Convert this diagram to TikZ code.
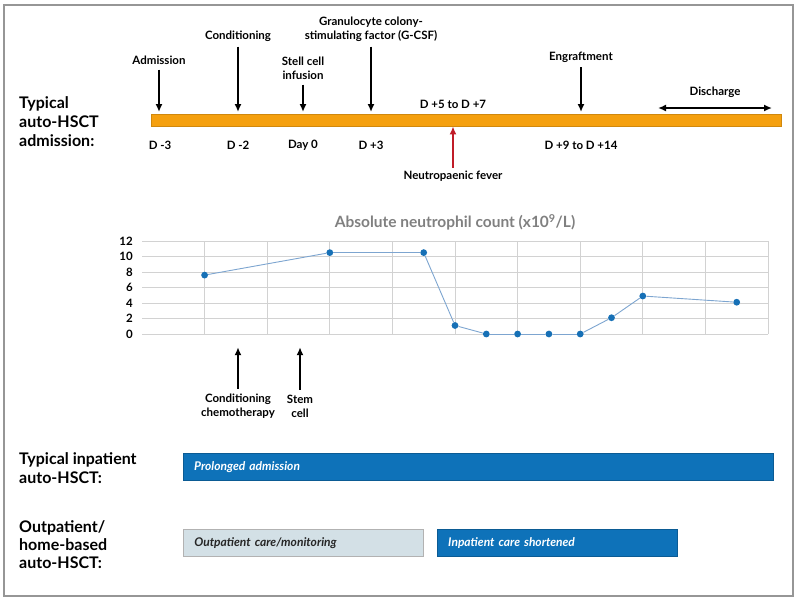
\documentclass[tikz,border=0pt]{standalone}
\usepackage{fontspec}
\setmainfont{Lato}
\usetikzlibrary{positioning,arrows.meta}
\definecolor{barorange}{RGB}{245,160,15}
\definecolor{boxblue}{RGB}{14,114,185}
\definecolor{boxgrey}{RGB}{211,224,230}
\definecolor{dotblue}{RGB}{22,112,182}
\definecolor{lineblue}{RGB}{125,165,208}
\definecolor{gridgrey}{RGB}{210,210,210}
\definecolor{titlegrey}{RGB}{128,128,128}
\definecolor{framegrey}{RGB}{150,150,150}
\definecolor{feverred}{RGB}{192,28,40}
\begin{document}
\begin{tikzpicture}[x=1pt, y=-1pt,
    every node/.style={inner sep=1pt, align=center, font=\bfseries\fontsize{11.5}{14}\selectfont},
    head/.style={anchor=west, align=left, font=\bfseries\fontsize{16}{19}\selectfont},
    evt/.style={->, line width=1.6pt},
    phase/.style={anchor=north west, inner xsep=11pt, text width=#1, minimum height=27pt, align=left,
      font=\bfseries\itshape\fontsize{12}{14}\selectfont},
    dot/.style={circle, fill=dotblue, inner sep=0pt, minimum size=6.8pt},
    gridline/.style={gridgrey, line width=0.8pt},
    chartline/.style={lineblue, line width=0.9pt},
    >={Latex[length=8pt,width=7pt]}
  ]
  \useasboundingbox (0,0) rectangle (800,600);
  \draw[framegrey, line width=1.4pt] (4,5) rectangle (793,596);

  % timeline
  \node[head] (typ) at (18,122) {Typical\\auto-HSCT\\admission:};
  \node[fill=barorange, draw=barorange!85!black, line width=0.4pt, inner sep=0pt,
    minimum width=630pt, minimum height=12pt, anchor=north west] (bar) at (151,114) {};
  \node (adm) at (159,60) {Admission};
  \node (cond) at (238,36) {Conditioning};
  \node (stell) at (303,68) {Stell cell\\infusion};
  \node (gcsf) at (371,29) {Granulocyte colony-\\stimulating factor (G-CSF)};
  \node (engr) at (581,57) {Engraftment};
  \node (dis) at (715,92) {Discharge};
  \node (d57) at (453,104) {D +5 to D +7};
  \node (fever) at (453,176) {Neutropaenic fever};
  \foreach \n in {adm,cond,stell,gcsf,engr}
    \draw[evt, shorten >=2pt] ([yshift=-4pt]\n.south) -- (\n.south |- bar.north);
  \draw[evt, feverred] ([yshift=2pt]fever.north) -- (fever.north |- bar.south);
  \coordinate (disL) at (658,108);
  \coordinate (disR) at (772,108);
  \draw[<->, line width=1.6pt] (disL) -- (disR);
  \foreach \x/\t in {160/D -3, 238/D -2, 303/Day 0, 371/D +3, 581/D +9 to D +14}
    \node (day\x) at (\x,145) {\t};

  % neutrophil chart
  \node[titlegrey, font=\bfseries\fontsize{15.5}{18}\selectfont] (title) at (455,222)
    {Absolute neutrophil count (x10\textsuperscript{9}/L)};
  \begin{scope}[shift={(142,334)}, x=62.6pt, y=7.75pt]
    \foreach \v in {0,2,...,12} {
      \draw[gridline] (0,\v) -- (10,\v);
      \node[anchor=east] (tick\v) at ([xshift=-8pt]0,\v) {\v};
    }
    \foreach \c in {1,...,10}
      \draw[gridline] (\c,0) -- (\c,12);
    \foreach \c/\v [count=\i] in {1/7.6, 3/10.5, 4.5/10.5, 5/1.1, 5.5/0, 6/0, 6.5/0, 7/0, 7.5/2.1, 8/4.9, 9.5/4.1}
      \node[dot] (p\i) at (\c,\v) {};
    \foreach \i [evaluate=\i as \j using int(\i+1)] in {1,...,10}
      \draw[chartline] (p\i) -- (p\j);
    \coordinate (axis) at (0,-1.7);
  \end{scope}
  \node (chemo) at (238,406) {Conditioning\\chemotherapy};
  \node (stem) at (300,406) {Stem\\cell};
  \foreach \n in {chemo,stem}
    \draw[evt] ([yshift=4pt]\n.north) -- (\n.north |- axis);

  % care settings
  \node[head] (inpat) at (18,468) {Typical inpatient\\auto-HSCT:};
  \node[head, font=\bfseries\fontsize{16}{18}\selectfont] (outpat) at (18,545) {Outpatient/\\home-based\\auto-HSCT:};
  \node[phase=568pt, fill=boxblue, draw=boxblue!80!black, line width=0.4pt, text=white] (prol) at (183,453) {Prolonged admission};
  \node[phase=218pt, fill=boxgrey, draw=gray!60, line width=0.6pt, text=black!85] (outc) at (183,529) {Outpatient care/monitoring};
  \node[phase=218pt, fill=boxblue, draw=boxblue!80!black, line width=0.4pt, text=white] (short) at (437,529) {Inpatient care shortened};
\end{tikzpicture}
\end{document}
